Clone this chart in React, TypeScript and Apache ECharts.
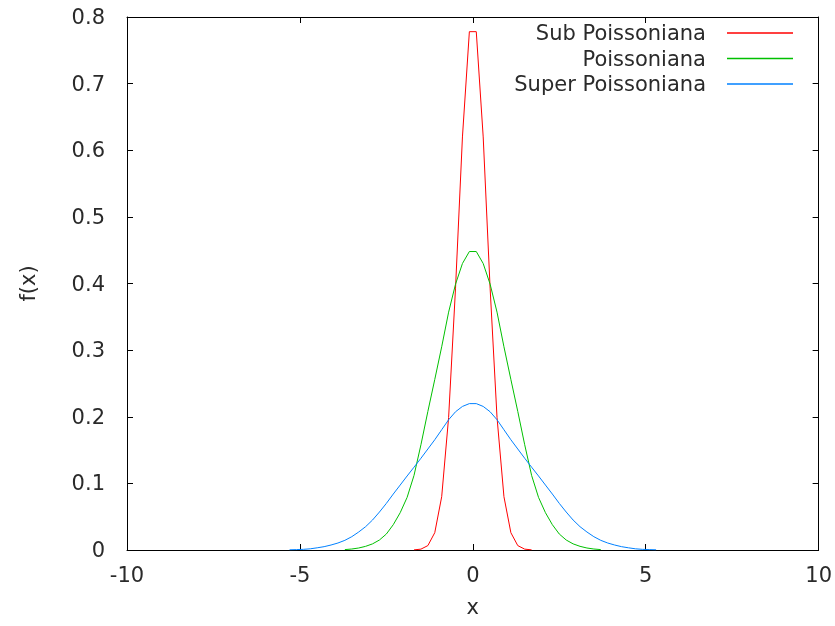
import React, { useEffect, useRef } from "react";
import * as echarts from "echarts";

const seriesNames = ["Sub Poissoniana", "Poissoniana", "Super Poissoniana"];
const seriesColors = ["#ff0000", "#00c000", "#0080ff"];

const xTicks = [-10, -5, 0, 5, 10];
const yTicks = [0, 0.1, 0.2, 0.3, 0.4, 0.5, 0.6, 0.7, 0.8];

const subX = [-1.7, -1.5, -1.3, -1.1, -0.9, -0.7, -0.5, -0.3, -0.1, 0.1, 0.3, 0.5, 0.7, 0.9, 1.1, 1.3, 1.5, 1.7];
const subY = [0.0002, 0.0013, 0.0066, 0.026, 0.08, 0.199, 0.393, 0.62, 0.778, 0.778, 0.62, 0.393, 0.199, 0.08, 0.026, 0.0066, 0.0013, 0.0002];

const poiX = [-3.7, -3.5, -3.3, -3.1, -2.9, -2.7, -2.5, -2.3, -2.1, -1.9, -1.7, -1.5, -1.3, -1.1, -0.9, -0.7, -0.5, -0.3, -0.1,
  0.1, 0.3, 0.5, 0.7, 0.9, 1.1, 1.3, 1.5, 1.7, 1.9, 2.1, 2.3, 2.5, 2.7, 2.9, 3.1, 3.3, 3.5, 3.7];
const poiY = [0.0006, 0.0015, 0.003, 0.0055, 0.0092, 0.015, 0.024, 0.038, 0.056, 0.079, 0.112, 0.158, 0.208, 0.256, 0.305, 0.357, 0.399, 0.43, 0.448,
  0.448, 0.43, 0.399, 0.357, 0.305, 0.256, 0.208, 0.158, 0.112, 0.079, 0.056, 0.038, 0.024, 0.015, 0.0092, 0.0055, 0.003, 0.0015, 0.0006];

const supX = [-5.3, -5.1, -4.9, -4.7, -4.5, -4.3, -4.1, -3.9, -3.7, -3.5, -3.3, -3.1, -2.9, -2.7, -2.5, -2.3, -2.1, -1.9, -1.7, -1.5, -1.3, -1.1, -0.9, -0.7, -0.5, -0.3, -0.1,
  0.1, 0.3, 0.5, 0.7, 0.9, 1.1, 1.3, 1.5, 1.7, 1.9, 2.1, 2.3, 2.5, 2.7, 2.9, 3.1, 3.3, 3.5, 3.7, 3.9, 4.1, 4.3, 4.5, 4.7, 4.9, 5.1, 5.3];
const supY = [0.0003, 0.0006, 0.001, 0.0018, 0.0033, 0.005, 0.0075, 0.0105, 0.0145, 0.02, 0.027, 0.035, 0.045, 0.057, 0.07, 0.084, 0.0975, 0.1111, 0.1243, 0.1377, 0.1516, 0.1655, 0.1805, 0.1955, 0.2075, 0.2155, 0.2197,
  0.2197, 0.2155, 0.2075, 0.1955, 0.1805, 0.1655, 0.1516, 0.1377, 0.1243, 0.1111, 0.0975, 0.084, 0.07, 0.057, 0.045, 0.035, 0.027, 0.02, 0.0145, 0.0105, 0.0075, 0.005, 0.0033, 0.0018, 0.001, 0.0006, 0.0003];

const FONT = "DejaVu Sans";
const TEXT = "#2a2a2a";
const FS = 21;

export default function App() {
  const ref = useRef<HTMLDivElement>(null);
  useEffect(() => {
    if (!ref.current) return;
    const chart = echarts.init(ref.current, null, { renderer: "svg" });
    const xs = [subX, poiX, supX];
    const ys = [subY, poiY, supY];
    const axisLine = { show: true, onZero: false, lineStyle: { color: "#000", width: 1 } };
    const tick = { show: true, inside: true, length: 6, lineStyle: { color: "#000", width: 1 } };
    const xMin = xTicks[0], xMax = xTicks[xTicks.length - 1];
    const yMin = yTicks[0], yMax = yTicks[yTicks.length - 1];

    // gnuplot-style key: right-aligned text followed by a line sample
    const keyTop = 33, keyStep = 25.5, keyTextRight = 706, keyLineX1 = 727, keyLineX2 = 793;
    const keyGraphics: any[] = [];
    seriesNames.forEach((name, i) => {
      const y = keyTop + i * keyStep;
      keyGraphics.push({
        type: "text", x: keyTextRight, y: y, silent: true,
        style: { text: name, align: "right", verticalAlign: "middle", fill: TEXT, font: `${FS}px "${FONT}"` },
      });
      keyGraphics.push({
        type: "line", silent: true,
        shape: { x1: keyLineX1, y1: y, x2: keyLineX2, y2: y },
        style: { stroke: seriesColors[i], lineWidth: 1.3 },
      });
    });

    chart.setOption({
      animation: false,
      grid: { left: 127, right: 14, top: 17, bottom: 76 },
      textStyle: { fontFamily: FONT },
      xAxis: [
        {
          type: "value", position: "bottom", min: xMin, max: xMax, interval: xTicks[1] - xTicks[0],
          axisLine, axisTick: tick, splitLine: { show: false },
          axisLabel: { fontSize: FS, color: TEXT, fontFamily: FONT, margin: 14 },
          name: "x", nameLocation: "middle", nameGap: 46,
          nameTextStyle: { fontSize: FS, color: TEXT, fontFamily: FONT },
        },
        {
          type: "value", position: "top", min: xMin, max: xMax, interval: xTicks[1] - xTicks[0],
          axisLine, axisTick: tick, splitLine: { show: false }, axisLabel: { show: false },
        },
      ],
      yAxis: [
        {
          type: "value", position: "left", min: yMin, max: yMax, interval: yTicks[1] - yTicks[0],
          axisLine, axisTick: tick, splitLine: { show: false },
          axisLabel: { fontSize: FS, color: TEXT, fontFamily: FONT, margin: 22 },
          name: "f(x)", nameLocation: "middle", nameGap: 89,
          nameTextStyle: { fontSize: FS, color: TEXT, fontFamily: FONT },
        },
        {
          type: "value", position: "right", min: yMin, max: yMax, interval: yTicks[1] - yTicks[0],
          axisLine, axisTick: tick, splitLine: { show: false }, axisLabel: { show: false },
        },
      ],
      graphic: keyGraphics,
      series: seriesNames.map((name, i) => ({
        name, type: "line", xAxisIndex: 0, yAxisIndex: 0, symbol: "none", showSymbol: false,
        color: seriesColors[i],
        lineStyle: { color: seriesColors[i], width: 1 },
        data: xs[i].map((x, j) => [x, ys[i][j]]),
      })),
    });
    return () => chart.dispose();
  }, []);
  return <div ref={ref} style={{ position: "fixed", left: 0, top: 0, width: 835, height: 626 }} />;
}
